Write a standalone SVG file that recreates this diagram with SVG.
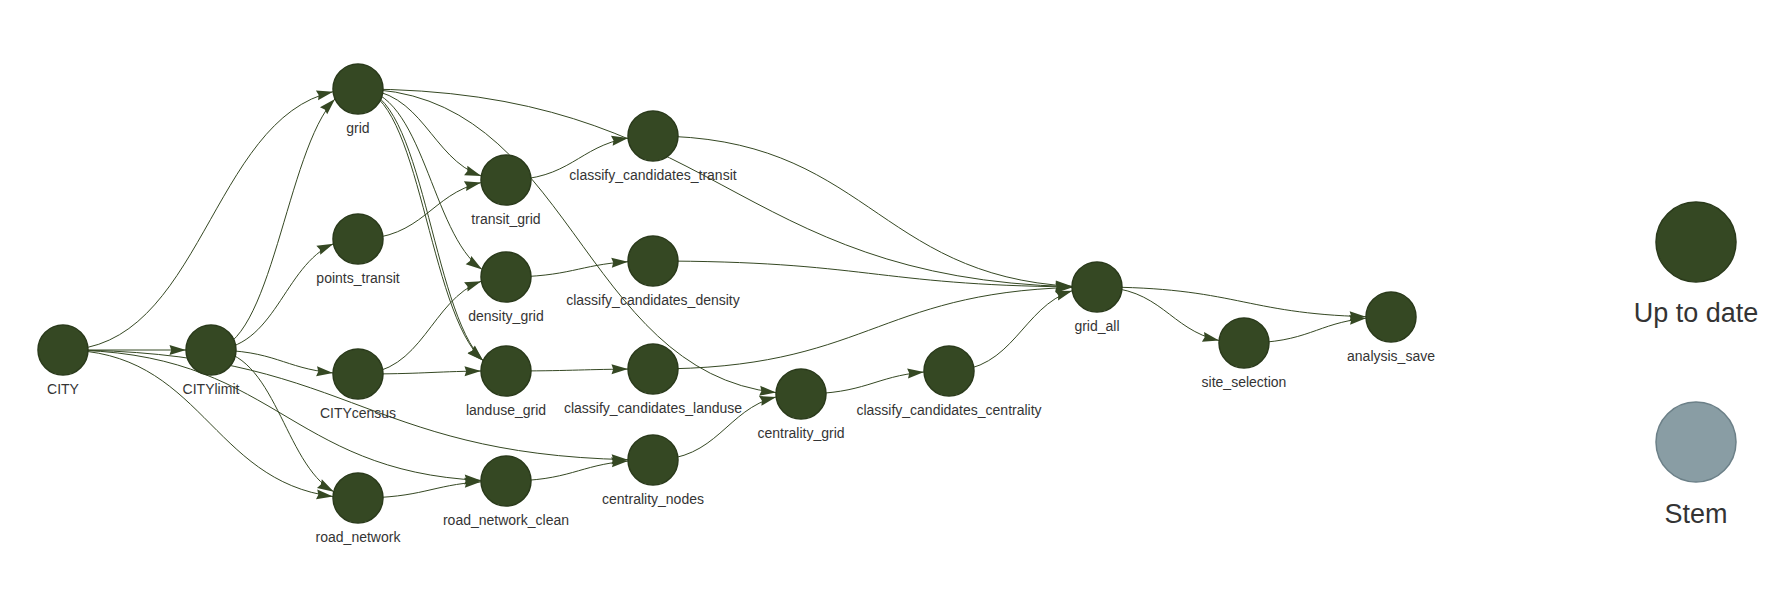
<svg xmlns="http://www.w3.org/2000/svg" width="1767" height="589" viewBox="0 0 1767 589">
<style>
.edge{fill:none;stroke:#354823;stroke-width:1;marker-end:url(#arrow)}
.node circle{fill:#354823;stroke:#2a3a1b;stroke-width:1.5}
.node text{font-family:"Liberation Sans",Arial,sans-serif;font-size:14px;fill:#343434;text-anchor:middle}
.legend text{font-family:"Liberation Sans",Arial,sans-serif;font-size:27px;fill:#343434;text-anchor:middle}
</style>
<defs>
<marker id="arrow" viewBox="-17 -6 17 12" refX="0" refY="0" markerWidth="17" markerHeight="12" markerUnits="userSpaceOnUse" orient="auto">
<path d="M0,0 L-16.5,-5 L-14.8,0 L-16.5,5 Z" fill="#354823"/>
</marker>
</defs>
<rect width="1767" height="589" fill="#ffffff"/>
<g id="connectors">
<path class="edge" d="M63,350 C201.7,350 210,119.2 333.1,91.7"/>
<path class="edge" d="M63,350 L186,350"/>
<path class="edge" d="M63,350 C201.7,350 210,480.8 333,496.5"/>
<path class="edge" d="M63,350 C275.8,350 284.2,471 481,480.4"/>
<path class="edge" d="M63,350 C349.4,350 357.7,453.7 628,459.7"/>
<path class="edge" d="M211,350 C272,350 286,150 335,98.9"/>
<path class="edge" d="M211,350 C275.3,350 283.3,265.2 333.5,243.8"/>
<path class="edge" d="M211,350 C275.1,350 283.3,368.2 333,372.9"/>
<path class="edge" d="M211,350 C275.4,350 283.4,463.6 333.8,491.7"/>
<path class="edge" d="M358,89 C422.7,89 430.8,158.5 481.3,176"/>
<path class="edge" d="M358,89 C423,89 430.9,234.3 482.1,269.4"/>
<path class="edge" d="M358,89 C423.5,89 431,310 483.2,360.7"/>
<path class="edge" d="M358,89 C420,91 428,312 483.2,360.7"/>
<path class="edge" d="M358,89 C570.9,89 579.2,370.7 776.1,392.6"/>
<path class="edge" d="M358,89 C719,89 727.3,278 1072,286.7"/>
<path class="edge" d="M358,239 C422.6,239 430.8,194 481.1,182.6"/>
<path class="edge" d="M358,374 C422.7,374 430.8,299.8 481.3,281.2"/>
<path class="edge" d="M358,374 C422.6,374 430.8,371.7 481,371"/>
<path class="edge" d="M358,498 C422.6,498 430.8,485 481,481.8"/>
<path class="edge" d="M506,180 C570.1,180 578.3,146.5 628.1,138"/>
<path class="edge" d="M506,277 C570.1,277 578.3,264.8 628,261.7"/>
<path class="edge" d="M506,371 C570.1,371 578.3,369.5 628,369.1"/>
<path class="edge" d="M506,481 C570.1,481 578.3,465 628,461"/>
<path class="edge" d="M653,460 C717.6,460 725.8,409.6 776.2,396.9"/>
<path class="edge" d="M801,394 C865.6,394 873.8,376.5 924,372"/>
<path class="edge" d="M653,136 C866.3,136 874.7,275.5 1072,286.3"/>
<path class="edge" d="M653,261 C866.3,261 874.7,285 1072,286.9"/>
<path class="edge" d="M653,369 C866.3,369 874.7,293.3 1072,287.4"/>
<path class="edge" d="M949,371 C1013.7,371 1021.8,306.8 1072.3,290.7"/>
<path class="edge" d="M1097,287 C1161.1,287 1169.3,329.6 1219.1,340.5"/>
<path class="edge" d="M1097,287 C1235.1,287 1243.5,313.5 1366,316.7"/>
<path class="edge" d="M1244,343 C1308.1,343 1316.3,323.2 1366,318.2"/>
</g>
<g id="CITY" class="node"><circle cx="63" cy="350" r="25"/><text x="63" y="394">CITY</text></g>
<g id="CITYlimit" class="node"><circle cx="211" cy="350" r="25"/><text x="211" y="394">CITYlimit</text></g>
<g id="grid" class="node"><circle cx="358" cy="89" r="25"/><text x="358" y="133">grid</text></g>
<g id="points_transit" class="node"><circle cx="358" cy="239" r="25"/><text x="358" y="283">points_transit</text></g>
<g id="CITYcensus" class="node"><circle cx="358" cy="374" r="25"/><text x="358" y="418">CITYcensus</text></g>
<g id="road_network" class="node"><circle cx="358" cy="498" r="25"/><text x="358" y="542">road_network</text></g>
<g id="transit_grid" class="node"><circle cx="506" cy="180" r="25"/><text x="506" y="224">transit_grid</text></g>
<g id="density_grid" class="node"><circle cx="506" cy="277" r="25"/><text x="506" y="321">density_grid</text></g>
<g id="landuse_grid" class="node"><circle cx="506" cy="371" r="25"/><text x="506" y="415">landuse_grid</text></g>
<g id="road_network_clean" class="node"><circle cx="506" cy="481" r="25"/><text x="506" y="525">road_network_clean</text></g>
<g id="classify_candidates_transit" class="node"><circle cx="653" cy="136" r="25"/><text x="653" y="180">classify_candidates_transit</text></g>
<g id="classify_candidates_density" class="node"><circle cx="653" cy="261" r="25"/><text x="653" y="305">classify_candidates_density</text></g>
<g id="classify_candidates_landuse" class="node"><circle cx="653" cy="369" r="25"/><text x="653" y="413">classify_candidates_landuse</text></g>
<g id="centrality_nodes" class="node"><circle cx="653" cy="460" r="25"/><text x="653" y="504">centrality_nodes</text></g>
<g id="centrality_grid" class="node"><circle cx="801" cy="394" r="25"/><text x="801" y="438">centrality_grid</text></g>
<g id="classify_candidates_centrality" class="node"><circle cx="949" cy="371" r="25"/><text x="949" y="415">classify_candidates_centrality</text></g>
<g id="grid_all" class="node"><circle cx="1097" cy="287" r="25"/><text x="1097" y="331">grid_all</text></g>
<g id="site_selection" class="node"><circle cx="1244" cy="343" r="25"/><text x="1244" y="387">site_selection</text></g>
<g id="analysis_save" class="node"><circle cx="1391" cy="317" r="25"/><text x="1391" y="361">analysis_save</text></g>
<g id="legend" class="legend">
<g id="legend_up_to_date"><circle cx="1696" cy="242" r="40" fill="#354823" stroke="#2a3a1b" stroke-width="1.5"/><text x="1696" y="322">Up to date</text></g>
<g id="legend_stem"><circle cx="1696" cy="442" r="40" fill="#899da4" stroke="#6c8088" stroke-width="1.5"/><text x="1696" y="523">Stem</text></g>
</g>
</svg>
